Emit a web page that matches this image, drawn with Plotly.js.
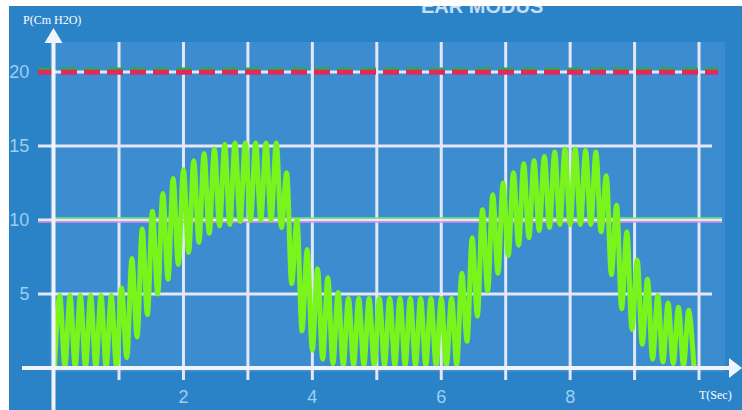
<!DOCTYPE html>
<html><head><meta charset="utf-8">
<script src="https://cdn.plot.ly/plotly-3.0.1.min.js"></script>
<style>
html,body{margin:0;padding:0;background:#fff;overflow:hidden;width:742px;height:410px}
#chart{position:absolute;left:9px;top:6px;width:733px;height:404px}
#mtop{position:absolute;left:0;top:0;width:742px;height:6px;background:#fff;z-index:10}
#mleft{position:absolute;left:0;top:0;width:9px;height:410px;background:#fff;z-index:10}
</style>
</head><body><div id="chart"></div><div id="mtop"></div><div id="mleft"></div>
<script>
// time samples (s) at successive troughs / peaks of the pressure oscillation
const T = [0,0.08,0.16,0.24,0.32,0.4,0.48,0.56,0.64,0.72,0.8,0.88,0.96,1.04,1.12,1.2,1.28,1.36,1.44,1.52,
1.6,1.68,1.76,1.84,1.92,2,2.08,2.16,2.24,2.32,2.4,2.48,2.56,2.64,2.72,2.8,2.88,2.96,3.04,3.12,
3.2,3.28,3.36,3.44,3.52,3.6,3.68,3.76,3.84,3.92,4,4.08,4.16,4.24,4.32,4.4,4.48,4.56,4.64,4.72,
4.8,4.88,4.96,5.04,5.12,5.2,5.28,5.36,5.44,5.52,5.6,5.68,5.76,5.84,5.92,6,6.08,6.16,6.24,6.32,
6.4,6.48,6.56,6.64,6.72,6.8,6.88,6.96,7.04,7.12,7.2,7.28,7.36,7.44,7.52,7.6,7.68,7.76,7.84,7.92,
8,8.08,8.16,8.24,8.32,8.4,8.48,8.56,8.64,8.72,8.8,8.88,8.96,9.04,9.12,9.2,9.28,9.36,9.44,9.52,
9.6,9.68,9.76,9.84,9.92];
// pressure (cm H2O)
const P = [0.1,4.9,0.1,4.9,0.1,4.9,0.1,4.9,0.1,4.9,0.1,4.9,0.1,5.4,0.7,7.4,2.1,9.4,3.6,10.6,
5.0,11.8,6.0,12.8,7.0,13.4,7.8,14.0,8.5,14.5,9.1,14.8,9.6,15.1,9.7,15.2,9.9,15.2,10.0,15.2,
10.0,15.2,10.0,15.2,9.5,13.2,5.7,10.0,2.5,8.0,1.2,6.7,0.6,6.1,0.3,5.1,0.2,4.7,0.2,4.7,
0.2,4.7,0.2,4.7,0.2,4.7,0.2,4.7,0.2,4.7,0.2,4.7,0.2,4.7,0.2,4.7,0.2,4.7,0.2,6.4,
1.8,8.8,3.5,10.7,5.2,11.7,6.4,12.5,7.6,13.2,8.3,13.8,8.8,14.0,9.3,14.3,9.5,14.6,9.7,14.8,
9.7,14.8,9.7,14.7,9.7,14.6,9.2,13.0,6.3,11.0,4.0,9.2,2.6,7.3,1.6,6.0,0.6,4.9,0.4,4.4,
0.3,4.1,0.2,3.9,0.1];

const xTickVals = [2,4,6,8];
const xTickText = ['2','4','6','8'];
const yTickVals = [5,10,15,20];
const yTickText = ['5','10','15','20'];
const gridT = [1,2,3,4,5,6,7,8,9,10];
const limitHigh = 20;
const limitMid = 10;
const title = 'EAR MODUS';
const yLabel = 'P(Cm H2O)';
const xLabel = 'T(Sec)';

// page pixel -> paper fraction helpers (layout only)
const xp = px => (px - 50) / 675;
const yp = py => (372 - py) / 330;

const gridCol = '#e3e7f7';
const shapes = [];
gridT.forEach(t => shapes.push({type:'line', layer:'below', xref:'x', yref:'paper',
  x0:t, x1:t, y0:yp(380), y1:1, line:{color:gridCol, width:3}}));
[[5,38,712],[15,38,712],[10,38,722],[20,38,718]].forEach(([v,a,b]) => shapes.push({type:'line', layer:'below',
  xref:'paper', yref:'y', x0:xp(a), x1:xp(b), y0:v, y1:v, line:{color:gridCol, width:3}}));
// coloured reference lines
shapes.push({type:'line', layer:'below', xref:'paper', yref:'y', x0:xp(55), x1:xp(722),
  y0:limitMid+0.14, y1:limitMid+0.14, line:{color:'#74e86a', width:1.6}});
shapes.push({type:'line', layer:'below', xref:'paper', yref:'y', x0:xp(38), x1:xp(722),
  y0:limitMid-0.13, y1:limitMid-0.13, line:{color:'#e08ae6', width:1.6}});
shapes.push({type:'line', layer:'below', xref:'paper', yref:'y', x0:xp(38), x1:xp(718),
  y0:limitHigh+0.2, y1:limitHigh+0.2, line:{color:'#2fa84c', width:3, dash:'16px,7px'}});
shapes.push({type:'line', layer:'below', xref:'paper', yref:'y', x0:xp(38), x1:xp(718),
  y0:limitHigh-0.02, y1:limitHigh-0.02, line:{color:'#e2285e', width:5, dash:'16px,7px'}});
// axes with arrows
shapes.push({type:'line', xref:'paper', yref:'paper', x0:xp(22), x1:xp(732), y0:yp(368), y1:yp(368),
  line:{color:'#f2f4fc', width:4}});
shapes.push({type:'path', xref:'paper', yref:'paper', fillcolor:'#f2f4fc', line:{width:0},
  path:`M${xp(729)},${yp(358)} L${xp(742)},${yp(368)} L${xp(729)},${yp(378)} Z`});
shapes.push({type:'line', xref:'paper', yref:'paper', x0:xp(53.5), x1:xp(53.5), y0:yp(412), y1:yp(40),
  line:{color:'#f2f4fc', width:4}});
shapes.push({type:'path', xref:'paper', yref:'paper', fillcolor:'#f2f4fc', line:{width:0},
  path:`M${xp(44.5)},${yp(43)} L${xp(53.5)},${yp(28)} L${xp(62.5)},${yp(43)} Z`});

const tickFont = {family:'Liberation Sans, Arial, sans-serif', size:18, color:'#9ccff2'};
const layout = {
  width:733, height:404,
  margin:{l:41, r:17, t:36, b:38, pad:0},
  paper_bgcolor:'#2a82c7', plot_bgcolor:'#3b8dcf',
  showlegend:false,
  xaxis:{range:[-0.071,10.403], showgrid:false, zeroline:false, showline:false,
    tickmode:'array', tickvals:xTickVals, ticktext:xTickText, ticks:'outside', ticklen:8,
    tickcolor:'rgba(0,0,0,0)', tickfont:tickFont, fixedrange:true},
  yaxis:{range:[-0.27,22.03], showgrid:false, zeroline:false, showline:false,
    tickmode:'array', tickvals:yTickVals, ticktext:yTickText, ticks:'outside', ticklen:16,
    tickcolor:'rgba(0,0,0,0)', tickfont:tickFont, fixedrange:true},
  shapes: shapes,
  annotations:[
    {text:title, xref:'paper', yref:'paper', x:xp(482), y:yp(19), xanchor:'center', yanchor:'bottom',
      showarrow:false, font:{family:'Liberation Sans, Arial, sans-serif', size:20, color:'#c6def3', weight:'bold'}},
    {text:yLabel, xref:'paper', yref:'paper', x:xp(21), y:yp(20), xanchor:'left', yanchor:'middle',
      showarrow:false, font:{family:'Liberation Serif, Times New Roman, serif', size:12, color:'#ffffff'}},
    {text:xLabel, xref:'paper', yref:'paper', x:xp(715), y:yp(395), xanchor:'center', yanchor:'middle',
      showarrow:false, font:{family:'Liberation Serif, Times New Roman, serif', size:12, color:'#ffffff'}}
  ]
};

const trace = {x:T, y:P, type:'scatter', mode:'lines', hoverinfo:'skip',
  line:{color:'#7af51c', width:5, shape:'spline', smoothing:1}};

Plotly.newPlot('chart', [trace], layout, {staticPlot:true, displayModeBar:false});
</script></body></html>
